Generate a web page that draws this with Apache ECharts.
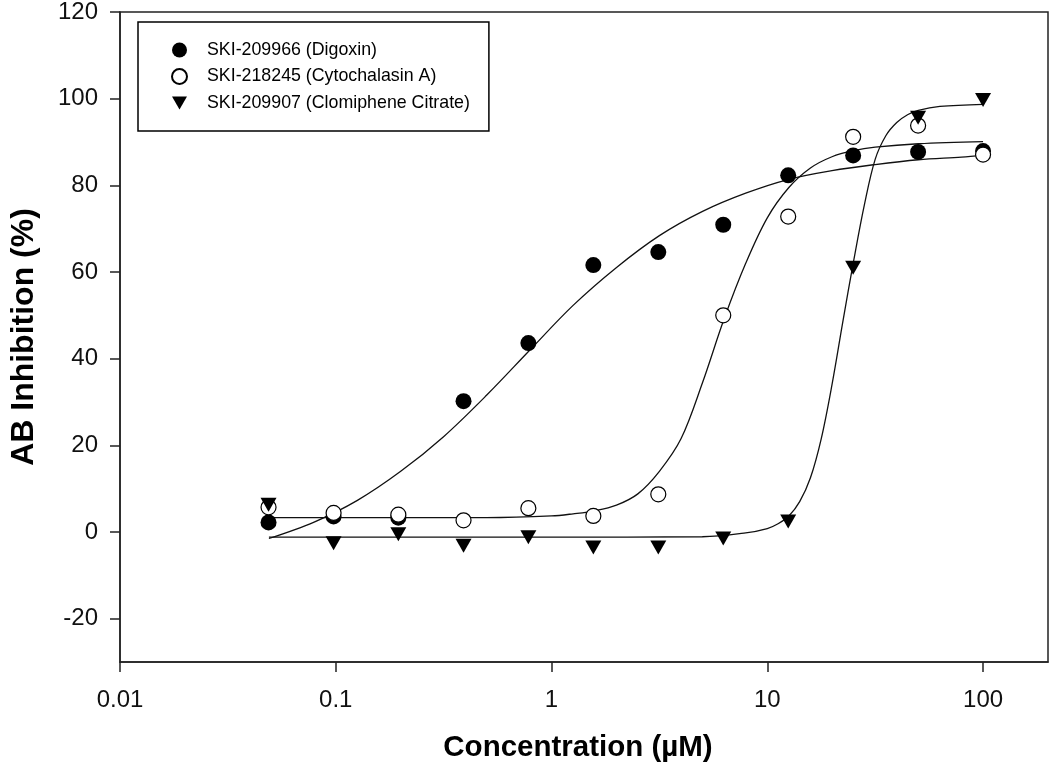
<!DOCTYPE html>
<html>
<head>
<meta charset="utf-8">
<script src="https://cdn.jsdelivr.net/npm/echarts@6/dist/echarts.min.js"></script>
<style>
html,body{margin:0;padding:0;background:#fff;}
#chart{width:1050px;height:776px;}
</style>
</head>
<body>
<div id="chart"></div>
<script>
// Concentrations (µM)
var conc = [0.0488, 0.0977, 0.195, 0.391, 0.781, 1.5625, 3.125, 6.25, 12.5, 25, 50, 100];
// Measured AB inhibition (%)
var digoxin = [2.2, 3.6, 3.3, 30.2, 43.6, 61.6, 64.6, 70.9, 82.3, 86.9, 87.7, 87.9];
var cytochalasin = [5.7, 4.4, 4.0, 2.7, 5.5, 3.7, 8.7, 50.0, 72.8, 91.2, 93.8, 87.1];
var clomiphene = [6.3, -2.6, -0.5, -3.2, -1.2, -3.6, -3.6, -1.5, 2.4, 61.0, 95.6, 99.7];

// Fitted curves
var digFitX = [0.049, 0.0794, 0.126, 0.2, 0.316, 0.501, 0.794, 1.259, 1.995, 3.162, 5.012, 7.943, 12.59, 19.95, 31.62, 50.12, 79.43, 100];
var digFitY = [-1.5, 2.3, 7.3, 14.0, 22.0, 31.6, 42.0, 52.3, 61.0, 68.4, 74.0, 78.2, 81.4, 83.4, 84.8, 85.9, 86.5, 86.9];
var cytoFitX = [0.049, 0.5, 1.0, 1.259, 1.585, 2.0, 2.512, 3.162, 3.981, 5.012, 6.31, 7.943, 10.0, 12.59, 15.85, 19.95, 25.12, 31.62, 50.12, 100];
var cytoFitY = [3.3, 3.3, 3.7, 4.2, 4.9, 6.2, 8.8, 14.0, 21.5, 34.5, 49.2, 62.0, 72.5, 79.5, 84.0, 86.6, 88.0, 88.8, 89.6, 90.1];
var clomiFitX = [0.049, 1.0, 5.0, 7.943, 10.0, 11.22, 12.59, 14.13, 15.85, 17.78, 19.95, 22.39, 25.12, 28.18, 31.62, 35.48, 39.81, 44.67, 50.12, 63.1, 100];
var clomiFitY = [-1.2, -1.2, -1.1, -0.2, 0.8, 1.9, 3.7, 7.0, 12.5, 21.5, 34.0, 48.5, 62.5, 75.5, 86.0, 91.5, 94.5, 96.3, 97.3, 98.2, 98.7];

var names = ['SKI-209966 (Digoxin)', 'SKI-218245 (Cytochalasin A)', 'SKI-209907 (Clomiphene Citrate)'];
var xTicks = [0.01, 0.1, 1, 10, 100];
var yTicks = [-20, 0, 20, 40, 60, 80, 100, 120];

function pairs(xs, ys) { return xs.map(function (x, i) { return [x, ys[i]]; }); }

var FONT = "'Liberation Sans', Arial, sans-serif";
var tri = 'path://M0,0 L16,0 L8,14 Z';

var chart = echarts.init(document.getElementById('chart'), null, {renderer: 'canvas'});
chart.setOption({
  animation: false,
  backgroundColor: '#fff',
  grid: {left: 119, right: 2, top: 11, bottom: 114, show: true, borderColor: '#222', borderWidth: 1.5, backgroundColor: 'transparent'},
  legend: {
    data: names,
    orient: 'vertical',
    left: 138, top: 22,
    padding: [19, 19, 19, 33],
    itemGap: 8.5,
    itemWidth: 15, itemHeight: 15,
    borderColor: '#000', borderWidth: 1.5,
    textStyle: {fontFamily: FONT, fontSize: 17.8, color: '#000', lineHeight: 18, padding: [0, 0, 0, 15]},
    selectedMode: false
  },
  xAxis: {
    type: 'log', logBase: 10, min: 0.01, max: 200,
    name: 'Concentration (\u00b5M)', nameLocation: 'middle', nameGap: 71,
    nameTextStyle: {fontFamily: FONT, fontSize: 29.5, fontWeight: 'bold', color: '#000', padding: [0, 12, 0, 0]},
    axisLine: {show: true, onZero: false, lineStyle: {color: '#222', width: 1.5}},
    axisTick: {show: true, length: 10, customValues: xTicks, lineStyle: {color: '#222', width: 1.5}},
    minorTick: {show: false},
    axisLabel: {customValues: xTicks, margin: 26, fontFamily: FONT, fontSize: 24, color: '#111',
      formatter: function (v) { return String(v); }},
    splitLine: {show: false}
  },
  yAxis: {
    type: 'value', min: -30, max: 120,
    name: 'AB Inhibition (%)', nameLocation: 'middle', nameGap: 80,
    nameTextStyle: {fontFamily: FONT, fontSize: 32, fontWeight: 'bold', color: '#000'},
    axisLine: {show: true, onZero: false, lineStyle: {color: '#222', width: 1.5}},
    axisTick: {show: true, length: 10, customValues: yTicks, lineStyle: {color: '#222', width: 1.5}},
    axisLabel: {customValues: yTicks, margin: 22, fontFamily: FONT, fontSize: 24, color: '#111'},
    splitLine: {show: false}
  },
  series: [
    {name: 'Digoxin fit', type: 'line', data: pairs(digFitX, digFitY), showSymbol: false, symbol: 'none',
      smooth: 0.35, lineStyle: {color: '#111', width: 1.3}, z: 2, silent: true},
    {name: 'Cytochalasin fit', type: 'line', data: pairs(cytoFitX, cytoFitY), showSymbol: false, symbol: 'none',
      smooth: 0.35, lineStyle: {color: '#111', width: 1.3}, z: 2, silent: true},
    {name: 'Clomiphene fit', type: 'line', data: pairs(clomiFitX, clomiFitY), showSymbol: false, symbol: 'none',
      smooth: 0.35, lineStyle: {color: '#111', width: 1.3}, z: 2, silent: true},
    {name: names[0], type: 'scatter', data: pairs(conc, digoxin), symbol: 'circle', symbolSize: 16,
      itemStyle: {color: '#000', borderColor: '#000', borderWidth: 0, opacity: 1}, z: 3},
    {name: names[1], type: 'scatter', data: pairs(conc, cytochalasin), symbol: 'circle', symbolSize: 15,
      itemStyle: {color: '#fff', borderColor: '#000', borderWidth: 1.2, opacity: 1}, z: 4},
    {name: names[2], type: 'scatter', data: pairs(conc, clomiphene), symbol: tri, symbolSize: [16, 14],
      itemStyle: {color: '#000', borderColor: '#000', borderWidth: 0, opacity: 1}, z: 5}
  ]
});
</script>
</body>
</html>
